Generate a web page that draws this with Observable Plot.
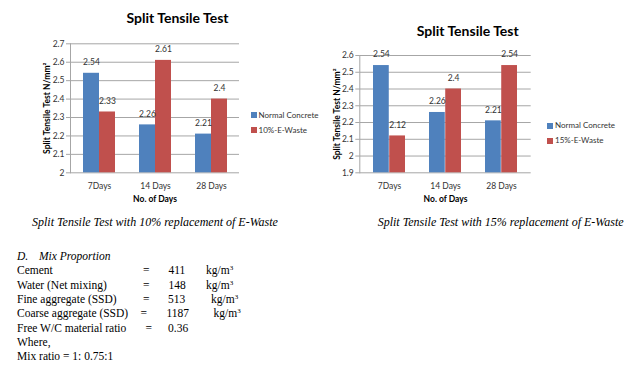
<!DOCTYPE html>
<html><head><meta charset="utf-8">
<script src="https://cdn.jsdelivr.net/npm/d3@7"></script>
<script src="https://cdn.jsdelivr.net/npm/@observablehq/plot@0.6"></script>
<style>
html,body{margin:0;padding:0;background:#fff;}
#page{position:relative;width:629px;height:370px;overflow:hidden;font-family:Lato,sans-serif;}
.abs{position:absolute;white-space:nowrap;}
.chart{position:absolute;top:0;}
.title{font-weight:bold;font-size:14px;line-height:14px;text-align:center;width:200px;color:#000;}
.leg{font-size:8px;line-height:10px;color:#333;}
.sw{position:absolute;width:6px;height:6px;}
.serif{font-family:"Liberation Serif","Times New Roman",serif;font-size:11.5px;line-height:12px;color:#000;}
.cap{font-size:12px;}
.it{font-style:italic;}
sup{font-size:7px;line-height:0;vertical-align:4px;}
</style></head>
<body><div id="page"></div>
<script>
// ---- data ----
const days = ["7Days", "14 Days", "28 Days"];
const normal1 = [2.54, 2.26, 2.21];
const waste10 = [2.33, 2.61, 2.4];
const normal2 = [2.54, 2.26, 2.21];
const waste15 = [2.12, 2.4, 2.54];
const yTicks1 = [2, 2.1, 2.2, 2.3, 2.4, 2.5, 2.6, 2.7];
const yTicks2 = [1.9, 2, 2.1, 2.2, 2.3, 2.4, 2.5, 2.6];
const series1 = ["Normal Concrete", "10%-E-Waste"];
const series2 = ["Normal Concrete", "15%-E-Waste"];
const chartTitle = "Split Tensile Test";
const yLabel = "Split Tensile Test N/mm²";
const xLabel = "No. of Days";
const captions = ["Split Tensile Test with 10% replacement of E-Waste", "Split Tensile Test with 15% replacement of E-Waste"];
const mixHeading = ["D.", "Mix Proportion"];
const mixLabels = ["Cement", "Water (Net mixing)", "Fine aggregate (SSD)", "Coarse aggregate (SSD)", "Free W/C material ratio"];
const mixValues = ["411", "148", "513", "1187", "0.36"];
const mixUnits = ["kg/m", "kg/m", "kg/m", "kg/m", ""];
const mixTail = ["Where,", "Mix ratio = 1: 0.75:1"];
const colors = ["#4F81BD", "#C0504D"];

const page = document.getElementById("page");

function makeChart({left, width, height, ml, mr, mt, mb, ticks, a, b}) {
  const pI = 0.43, pO = 0.22;
  const inner = width - ml - mr;
  const step = inner / (days.length - pI + 2 * pO);
  const half = step * (1 - pI) / 2;
  const base = ticks[0];
  const rows = days.map((d, i) => ({day: d, a: a[i], b: b[i]}));
  const svg = Plot.plot({
    width, height, marginLeft: ml, marginRight: mr, marginTop: mt, marginBottom: mb,
    style: {background: "transparent", fontFamily: "Lato, sans-serif", fontSize: "8.5px", color: "#333", overflow: "visible"},
    x: {type: "band", domain: days, paddingInner: pI, paddingOuter: pO, label: null},
    y: {domain: [ticks[0], ticks[ticks.length - 1]], label: null},
    marks: [
      Plot.gridY(ticks, {stroke: "#a6a6a6", strokeOpacity: 1}),
      Plot.barY(rows, {x: "day", y1: base, y2: "a", fill: colors[0], insetRight: half}),
      Plot.barY(rows, {x: "day", y1: base, y2: "b", fill: colors[1], insetLeft: half}),
      Plot.frame({anchor: "left", stroke: "#a6a6a6"}),
      Plot.axisY({ticks, tickSize: 4, tickPadding: 2, stroke: "#a6a6a6", fill: "#333", tickFormat: d => String(d), label: null}),
      Plot.axisX({tickSize: 0, tickPadding: 10, fill: "#333", label: null}),
      Plot.text(rows, {x: "day", y: "a", text: d => String(d.a), dx: -half / 2, dy: -11, fill: "#333"}),
      Plot.text(rows, {x: "day", y: "b", text: d => String(d.b), dx: half / 2, dy: -11, fill: "#333"}),
      Plot.text([yLabel], {frameAnchor: "left", textAnchor: "middle", text: d => d, rotate: -90, dx: -23, fontWeight: "bold", fill: "#000"}),
      Plot.text([xLabel], {frameAnchor: "bottom", text: d => d, dy: 29.5, fontWeight: "bold", fill: "#000"})
    ]
  });
  svg.classList.add("chart");
  svg.style.left = left + "px";
  page.appendChild(svg);
}

makeChart({left: 0, width: 300, height: 210, ml: 70, mr: 61, mt: 43.3, mb: 37.7, ticks: yTicks1, a: normal1, b: waste10});
makeChart({left: 300, width: 329, height: 210, ml: 59.3, mr: 98.3, mt: 55, mb: 37.7, ticks: yTicks2, a: normal2, b: waste15});

function add(cls, html, x, y, extra) {
  const d = document.createElement("div");
  d.className = "abs " + cls;
  d.innerHTML = html;
  d.style.left = x + "px";
  d.style.top = y + "px";
  if (extra) Object.assign(d.style, extra);
  page.appendChild(d);
  return d;
}

// titles
add("title", chartTitle, 177.5 - 100, 10.9);
add("title", chartTitle, 467.7 - 100, 23.6);

// legends
function legend(x, y0, names) {
  names.forEach((n, i) => {
    const y = y0 + i * 15;
    add("sw", "", x, y - 3, {background: colors[i]});
    add("leg", n, x + 8, y - 5.5);
  });
}
legend(250.5, 115, series1);
legend(547, 125.7, series2);

// captions
add("serif it cap", captions[0], 32, 222 - 6.5);
add("serif it cap", captions[1], 377.7, 222 - 6.5);

// mix proportion text
const rowY = [270.5, 285, 299, 313.5, 328];
const eqX = [143, 143, 143, 140.5, 145.5];
const valX = [168.5, 168.5, 168, 166.5, 168];
const unitX = [206, 206, 211, 213.5, 0];
add("serif it", mixHeading[0], 17, 256 - 6.5);
add("serif it", mixHeading[1], 39, 256 - 6.5);
mixLabels.forEach((l, i) => {
  const t = rowY[i] - 6.5;
  add("serif", l, 17, t);
  add("serif", "=", eqX[i], t);
  add("serif", mixValues[i], valX[i], t);
  if (mixUnits[i]) add("serif", mixUnits[i] + "<sup>3</sup>", unitX[i], t);
});
add("serif", mixTail[0], 17, 342 - 6.5);
add("serif", mixTail[1], 17, 356.5 - 6.5);
</script>
</body></html>
